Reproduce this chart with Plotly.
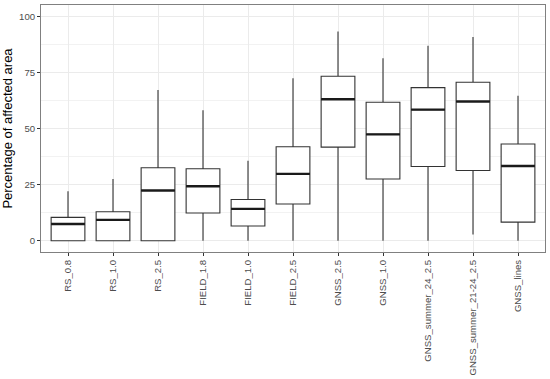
import plotly.graph_objects as go

categories = ["RS_0.8", "RS_1.0", "RS_2.5", "FIELD_1.8", "FIELD_1.0", "FIELD_2.5",
              "GNSS_2.5", "GNSS_1.0", "GNSS_summer_24_2.5", "GNSS_summer_21-24_2.5", "GNSS_lines"]
lower = [0, 0, 0, 0, 0, 0, 0, 0, 0, 2.8, 0]
q1 = [0, 0, 0, 12.4, 6.6, 16.4, 41.7, 27.5, 33.1, 31.3, 8.3]
median = [7.5, 9.3, 22.4, 24.3, 14.2, 29.8, 63.0, 47.4, 58.4, 62.0, 33.3]
q3 = [10.4, 12.9, 32.5, 32.1, 18.4, 41.9, 73.3, 61.7, 68.2, 70.6, 43.1]
upper = [22.1, 27.5, 67.2, 58.1, 35.6, 72.4, 93.2, 81.3, 86.8, 90.7, 64.6]
y_ticks = [0, 25, 50, 75, 100]

box_width = 0.75
xs = list(range(len(categories)))

fig = go.Figure()
fig.add_trace(go.Box(
    x=xs, q1=q1, median=median, q3=q3, lowerfence=lower, upperfence=upper,
    width=box_width, whiskerwidth=0, fillcolor="white",
    line=dict(color="#333333", width=1.1), boxpoints=False, hoverinfo="skip",
    showlegend=False,
))

mx, my = [], []
for i, m in zip(xs, median):
    mx += [i - box_width / 2, i + box_width / 2, None]
    my += [m, m, None]
fig.add_trace(go.Scatter(x=mx, y=my, mode="lines",
                         line=dict(color="#1a1a1a", width=2.4),
                         showlegend=False, hoverinfo="skip"))

fig.update_layout(
    width=550, height=379,
    margin=dict(l=41, r=5, t=5, b=127),
    paper_bgcolor="white", plot_bgcolor="white",
    font=dict(family="Liberation Sans, Arial, sans-serif", color="#4D4D4D"),
)
fig.update_xaxes(
    automargin=False,
    range=[-0.6, len(categories) - 0.4],
    tickmode="array", tickvals=xs, ticktext=categories,
    tickangle=-90, tickfont=dict(size=9.6, color="#4D4D4D"),
    ticks="outside", ticklen=3, tickcolor="#333333", tickwidth=1,
    showgrid=True, gridcolor="#EBEBEB", gridwidth=1,
    showline=True, mirror=True, linecolor="#808080", linewidth=1,
    zeroline=False,
)
fig.update_yaxes(
    automargin=False,
    range=[-5, 105],
    tickmode="array", tickvals=y_ticks,
    tickfont=dict(size=9.6, color="#4D4D4D"),
    ticks="outside", ticklen=3, tickcolor="#333333", tickwidth=1,
    showgrid=True, gridcolor="#EBEBEB", gridwidth=1,
    minor=dict(tickvals=[12.5, 37.5, 62.5, 87.5], showgrid=True, gridcolor="#F2F2F2", gridwidth=0.6, ticks=""),
    showline=True, mirror=True, linecolor="#808080", linewidth=1,
    zeroline=False,
    title=dict(text="Percentage of affected area", font=dict(size=13, color="black"), standoff=7),
)

fig.write_html("out.html", config={"displayModeBar": False},
               post_script="document.body.style.margin='0';")
